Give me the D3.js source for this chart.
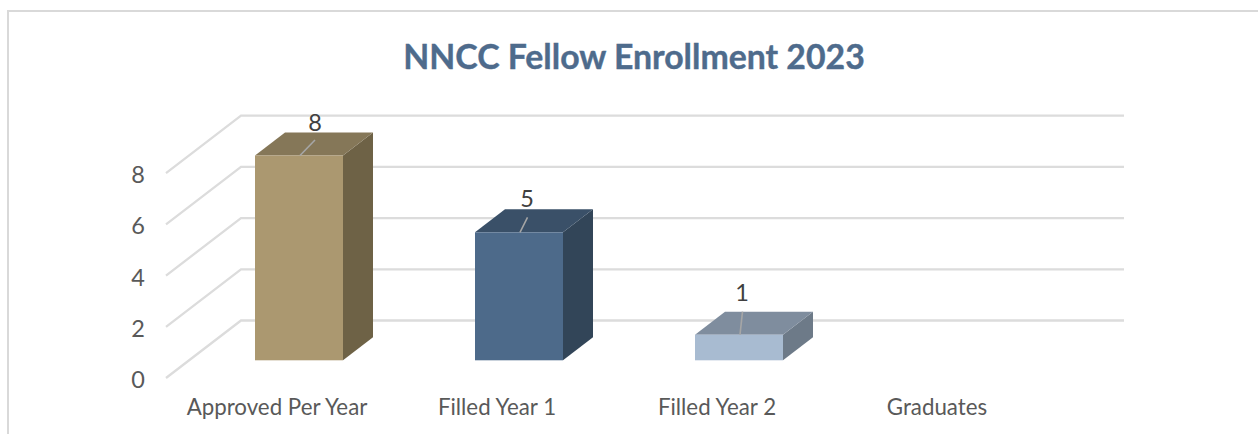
<!DOCTYPE html>
<html>
<head>
<meta charset="utf-8">
<style>
html,body{margin:0;padding:0;background:#fff;overflow:hidden}
svg{display:block}
text{font-family:Lato,"Open Sans",sans-serif}
</style>
<script src="https://cdn.jsdelivr.net/npm/d3@7"></script>
</head>
<body>
<svg id="chart" width="1258" height="434"></svg>
<script>
const titleText = "NNCC Fellow Enrollment 2023";
const categories = ["Approved Per Year", "Filled Year 1", "Filled Year 2", "Graduates"];
const values = [8, 5, 1, null];
const yTicks = [0, 2, 4, 6, 8];
const frontColors = ["#ab9870", "#4d6a8a", "#a8bbd1", "#a8bbd1"];
const topColors = ["#857758", "#3a5068", "#7f8d9e", "#7f8d9e"];
const sideColors = ["#6e6246", "#324558", "#6d7a88", "#6d7a88"];

const svg = d3.select("#chart");

// Frame: open on the right and bottom because the picture is cropped there
svg.append("path")
  .attr("d", d3.line()([[8, 434], [8, 11], [1258, 11]]))
  .attr("fill", "none").attr("stroke", "#d9d9d9").attr("stroke-width", 2);

svg.append("text").attr("x", 634).attr("y", 69)
  .attr("text-anchor", "middle").attr("font-size", 33.8).attr("font-weight", 700)
  .attr("stroke", "#4e6b8c").attr("stroke-width", 0.4)
  .attr("fill", "#4e6b8c").text(titleText);

// Scales on the front plane of the bars, plus depth projection
const x = d3.scaleBand().domain(categories).range([189, 1069]).paddingInner(0).paddingOuter(0);
const y = d3.scaleLinear().domain([0, 8]).range([360.3, 155.5]);
const barWidth = d3.scaleLinear().domain([0, 1]).range([0, 88]);
const depthX = d3.scaleLinear().domain([0, 1]).range([0, 30]);
const depthY = d3.scaleLinear().domain([0, 1]).range([0, -23]);
const dFront = -0.77, dBack = 1.73;

// Gridlines
const grid = svg.append("g").attr("fill", "none").attr("stroke", "#dcdcdc").attr("stroke-width", 2.3);
yTicks.forEach(t => {
  const gy = y(t);
  grid.append("path").attr("d", d3.line()([
    [166, gy + depthY(dFront)],
    [241, gy + depthY(dBack)],
    [1124, gy + depthY(dBack)]
  ]));
});

// Value-axis labels
svg.append("g").selectAll("text").data(yTicks).join("text")
  .attr("x", 138).attr("y", d => y(d) + depthY(dFront) + 10)
  .attr("text-anchor", "middle").attr("font-size", 23.5).attr("fill", "#595959")
  .text(d => d);

// Category labels
svg.append("g").selectAll("text").data(categories).join("text")
  .attr("x", d => x(d) + x.bandwidth() / 2 - 22).attr("y", 415)
  .attr("text-anchor", "middle").attr("font-size", 22.3).attr("fill", "#595959")
  .text(d => d);

// Bars
const rows = categories.map((c, i) => ({c, v: values[i], i})).filter(d => d.v !== null);
const line = d3.line();
const bars = svg.append("g").selectAll("g").data(rows).join("g");
const left = d => x(d.c) + (x.bandwidth() - barWidth(1)) / 2;
const right = d => left(d) + barWidth(1);

bars.append("path").attr("fill", d => sideColors[d.i])
  .attr("d", d => line([
    [right(d), y(d.v)], [right(d) + depthX(1), y(d.v) + depthY(1)],
    [right(d) + depthX(1), y(0) + depthY(1)], [right(d), y(0)]
  ]));
bars.append("path").attr("fill", d => topColors[d.i])
  .attr("d", d => line([
    [left(d), y(d.v)], [right(d), y(d.v)],
    [right(d) + depthX(1), y(d.v) + depthY(1)], [left(d) + depthX(1), y(d.v) + depthY(1)]
  ]));
bars.append("rect").attr("fill", d => frontColors[d.i])
  .attr("x", left).attr("y", d => y(d.v))
  .attr("width", barWidth(1)).attr("height", d => y(0) - y(d.v));

// Leader lines and data labels
const labelOffsetX = [16, 8, 3];
const labelBaseline = [131, 207, 301];
const leaderEnd = [[15, 15.5], [7.5, 15], [2.5, 23]];
bars.append("path").attr("stroke", "#a6a6a6").attr("stroke-width", 1.6).attr("fill", "none")
  .attr("d", d => {
    const cx = x(d.c) + x.bandwidth() / 2 + 1;
    return line([[cx, y(d.v)], [cx + leaderEnd[d.i][0], y(d.v) - leaderEnd[d.i][1]]]);
  });
bars.append("text").attr("text-anchor", "middle").attr("font-size", 23.5).attr("fill", "#404040")
  .attr("x", d => x(d.c) + x.bandwidth() / 2 + labelOffsetX[d.i])
  .attr("y", d => labelBaseline[d.i])
  .text(d => d.v);
</script>
</body>
</html>
